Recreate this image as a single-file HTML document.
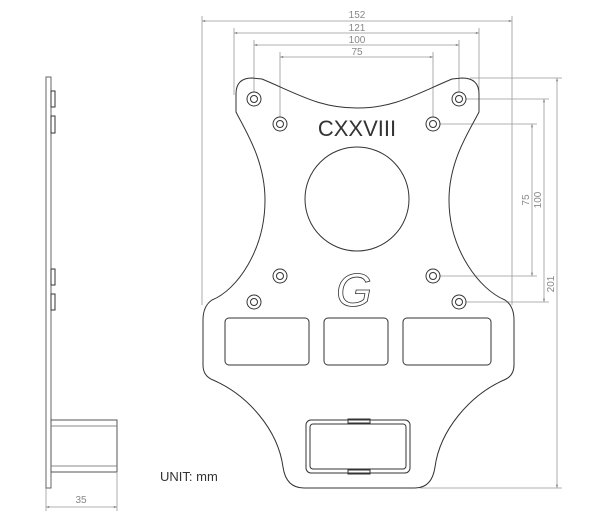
<!DOCTYPE html>
<html><head><meta charset="utf-8"><style>
html,body{margin:0;padding:0;background:#fff;}
svg{display:block;}
text{font-family:"Liberation Sans",sans-serif;}
</style></head><body>
<svg width="600" height="513" viewBox="0 0 600 513" xmlns="http://www.w3.org/2000/svg">
<defs>
<marker id="a" viewBox="0 0 10 10" refX="10" refY="5" markerWidth="6" markerHeight="4" orient="auto-start-reverse"><path d="M0,2 L10,5 L0,8 z" fill="#777"/></marker>
</defs>
<g stroke="#999" stroke-width="0.8" fill="none">
<line x1="202" y1="21" x2="512" y2="21" marker-start="url(#a)" marker-end="url(#a)"/>
<line x1="234" y1="33" x2="479" y2="33" marker-start="url(#a)" marker-end="url(#a)"/>
<line x1="254" y1="45" x2="459" y2="45" marker-start="url(#a)" marker-end="url(#a)"/>
<line x1="280" y1="57" x2="433" y2="57" marker-start="url(#a)" marker-end="url(#a)"/>
<line x1="202" y1="16" x2="202" y2="305"/>
<line x1="512" y1="16" x2="512" y2="305"/>
<line x1="234" y1="28" x2="234" y2="95"/>
<line x1="479" y1="28" x2="479" y2="95"/>
<line x1="254" y1="40" x2="254" y2="92"/>
<line x1="459" y1="40" x2="459" y2="92"/>
<line x1="280" y1="52" x2="280" y2="117"/>
<line x1="433" y1="52" x2="433" y2="117"/>
<line x1="532" y1="124" x2="532" y2="276" marker-start="url(#a)" marker-end="url(#a)"/>
<line x1="544" y1="99" x2="544" y2="302" marker-start="url(#a)" marker-end="url(#a)"/>
<line x1="557" y1="78" x2="557" y2="488" marker-start="url(#a)" marker-end="url(#a)"/>
<line x1="440" y1="124" x2="537" y2="124"/>
<line x1="440" y1="276" x2="537" y2="276"/>
<line x1="466" y1="99" x2="549" y2="99"/>
<line x1="466" y1="302" x2="549" y2="302"/>
<line x1="470" y1="78" x2="562" y2="78"/>
<line x1="420" y1="488" x2="562" y2="488"/>
<line x1="46" y1="507" x2="117" y2="507" marker-start="url(#a)" marker-end="url(#a)"/>
<line x1="46" y1="488" x2="46" y2="511"/>
<line x1="117" y1="473" x2="117" y2="511"/>
</g>
<g fill="#888" font-size="10">
<text x="357" y="18" text-anchor="middle">152</text>
<text x="357" y="31" text-anchor="middle">121</text>
<text x="357" y="43" text-anchor="middle">100</text>
<text x="357" y="55" text-anchor="middle">75</text>
<text x="81" y="503" text-anchor="middle">35</text>
<text transform="translate(529,200) rotate(-90)" text-anchor="middle">75</text>
<text transform="translate(541,200) rotate(-90)" text-anchor="middle">100</text>
<text transform="translate(554,284) rotate(-90)" text-anchor="middle">201</text>
</g>
<g stroke="#333" stroke-width="1" fill="none">
<path d="M262,79 C300,95 320,108 357,108 C394,108 414,95 452,79 L462,78 Q479,78 479,94 L479,112 C470,130 449,160 449,200 C449,250 480,290 505,300 Q514,306 514,320 L514,365 Q514,376 504,380 C470,395 440,430 435,467 Q432,488 415,488 L304,488 Q286,488 283,467 C278,430 248,395 213,380 Q203,376 203,365 L203,320 Q203,306 212,300 C237,290 265,250 265,200 C265,160 245,130 236,112 L236,94 Q236,78 252,78 Z"/>
<circle cx="357" cy="199" r="52"/>
<g>
<circle cx="254" cy="99" r="7"/><circle cx="254" cy="99" r="3.5"/>
<circle cx="459" cy="99" r="7"/><circle cx="459" cy="99" r="3.5"/>
<circle cx="280" cy="124" r="7"/><circle cx="280" cy="124" r="3.5"/>
<circle cx="433" cy="124" r="7"/><circle cx="433" cy="124" r="3.5"/>
<circle cx="280" cy="276" r="7"/><circle cx="280" cy="276" r="3.5"/>
<circle cx="433" cy="276" r="7"/><circle cx="433" cy="276" r="3.5"/>
<circle cx="254" cy="302" r="7"/><circle cx="254" cy="302" r="3.5"/>
<circle cx="459" cy="302" r="7"/><circle cx="459" cy="302" r="3.5"/>
</g>
<rect x="225" y="318" width="84" height="47" rx="4"/>
<rect x="324" y="318" width="64" height="47" rx="4"/>
<rect x="403" y="318" width="88" height="47" rx="4"/>
<rect x="306" y="420" width="104" height="53" rx="5"/>
<rect x="310" y="424" width="96" height="45" rx="3"/>
<rect x="348" y="419" width="22" height="4"/>
<rect x="348" y="470" width="22" height="4"/>
<rect x="46" y="77" width="5" height="411" stroke="#666"/>
<rect x="51" y="91" width="4" height="16"/>
<rect x="51" y="116" width="4" height="17"/>
<rect x="51" y="269" width="4" height="16"/>
<rect x="51" y="294" width="4" height="16"/>
<rect x="51" y="420" width="66" height="52" stroke="#555"/>
<line x1="51" y1="426" x2="117" y2="426" stroke="#888"/>
<line x1="51" y1="466" x2="117" y2="466" stroke="#888"/>
</g>
<text x="357" y="136" text-anchor="middle" font-size="22" fill="#333">CXXVIII</text>
<text x="354" y="306" text-anchor="middle" font-size="46" fill="#fff" stroke="#333" stroke-width="0.8" font-style="italic" font-family="Liberation Serif,serif">G</text>
<text x="160" y="481" font-size="13" fill="#333">UNIT: mm</text>
</svg>
</body></html>
